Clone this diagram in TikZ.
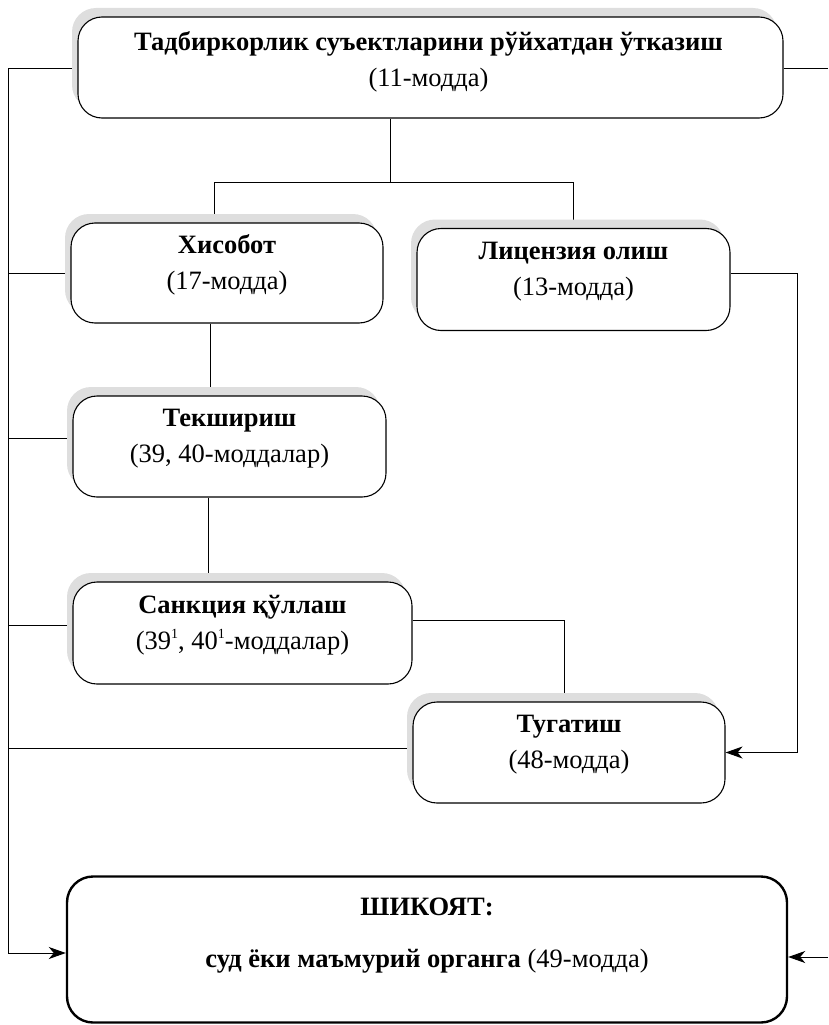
\documentclass[tikz,border=0pt]{standalone}
\usepackage{fontspec}
\setmainfont{Liberation Serif}
\usetikzlibrary{shadows,arrows.meta,backgrounds}
\newcommand{\supone}{\raisebox{0.42em}{\fontsize{14}{14}\selectfont 1}}
\begin{document}
\begin{tikzpicture}[x=1pt,y=-1pt,
  box/.style={draw=black, line width=1.1pt, rounded corners=24pt, fill=white,
    drop shadow={shadow xshift=-6pt, shadow yshift=9pt, fill=black!13, opacity=1},
    inner sep=0pt},
  bigbox/.style={draw=black, line width=2.4pt, rounded corners=26pt, fill=white, inner sep=0pt},
  txt/.style={align=center, font=\fontsize{26.5}{36}\selectfont, inner sep=0pt},
  ln/.style={line width=1pt},
  arr/.style={ln, -{Stealth[length=17pt,width=12pt,inset=5pt]}}]
\useasboundingbox (0,0) rectangle (828,1025);
% boxes
\node[box, minimum width=705pt, minimum height=101pt] (top) at (430.5,67.5) {};
\node[box, minimum width=312pt, minimum height=100pt] (his) at (227,273) {};
\node[box, minimum width=313pt, minimum height=102pt] (lic) at (573.5,279.5) {};
\node[box, minimum width=313pt, minimum height=101pt] (tek) at (229.5,446.5) {};
\node[box, minimum width=339pt, minimum height=102pt] (san) at (242.5,633) {};
\node[box, minimum width=312pt, minimum height=101pt] (tug) at (569,752.5) {};
\node[bigbox, minimum width=720pt, minimum height=146pt] (shk) at (427,949.5) {};
% texts
\node[txt] (topt) at ([xshift=-2pt,yshift=6pt]top.center) {{\bfseries Тадбиркорлик суъектларини рўйхатдан ўтказиш}\\(11-модда)};
\node[txt] (hist) at ([yshift=8pt]his.center) {{\bfseries Хисобот}\\(17-модда)};
\node[txt] (lict) at ([yshift=8pt]lic.center) {{\bfseries Лицензия олиш}\\(13-модда)};
\node[txt] (tekt) at ([yshift=8pt]tek.center) {{\bfseries Текшириш}\\(39, 40-моддалар)};
\node[txt] (sant) at ([yshift=8pt]san.center) {{\bfseries Санкция қўллаш}\\(39\supone, 40\supone-моддалар)};
\node[txt] (tugt) at ([yshift=8pt]tug.center) {{\bfseries Тугатиш}\\(48-модда)};
\node[txt, font=\fontsize{26.5}{52}\selectfont] (shkt) at ([yshift=14pt]shk.center) {{\bfseries ШИКОЯТ:}\\{\bfseries суд ёки маъмурий органга} (49-модда)};
% junction coordinates
\coordinate (j1) at (390,182);
\coordinate (jl) at (214,182);
\coordinate (jr) at (573,182);
\coordinate (bl) at (8,69);
\coordinate (bb) at (8,953);
\coordinate (re) at (828,69);
\coordinate (rb) at (828,957);
\coordinate (rl) at (797,273);
\coordinate (sr) at (564,620);
\begin{pgfonlayer}{background}
\draw[ln] (j1 |- top.south) -- (j1);
\draw[ln] (jl) -- (jr);
\draw[ln] (jl) -- (jl |- his.north);
\draw[ln] (jr) -- (jr |- lic.north);
\draw[ln] (210,0 |- his.south) -- (210,0 |- tek.north);
\draw[ln] (208,0 |- tek.south) -- (208,0 |- san.north);
\draw[ln] (san.east |- sr) -- (sr) -- (sr |- tug.north);
\draw[ln] (lic.east |- rl) -- (rl) -- (rl |- tug.east);
\draw[arr] (rl |- tug.east) -- (tug.east);
\draw[ln] (bl) -- (bb);
\draw[arr] (bb) -- (bb -| shk.west);
\draw[ln] (bl) -- (bl -| top.west);
\draw[ln] (top.east |- re) -- (re);
\draw[arr] (rb) -- (rb -| shk.east);
\draw[ln] (8,273) -- (his.west |- 8,273);
\draw[ln] (8,438) -- (tek.west |- 8,438);
\draw[ln] (8,625) -- (san.west |- 8,625);
\draw[ln] (8,748) -- (tug.west |- 8,748);
\end{pgfonlayer}
\end{tikzpicture}
\end{document}
